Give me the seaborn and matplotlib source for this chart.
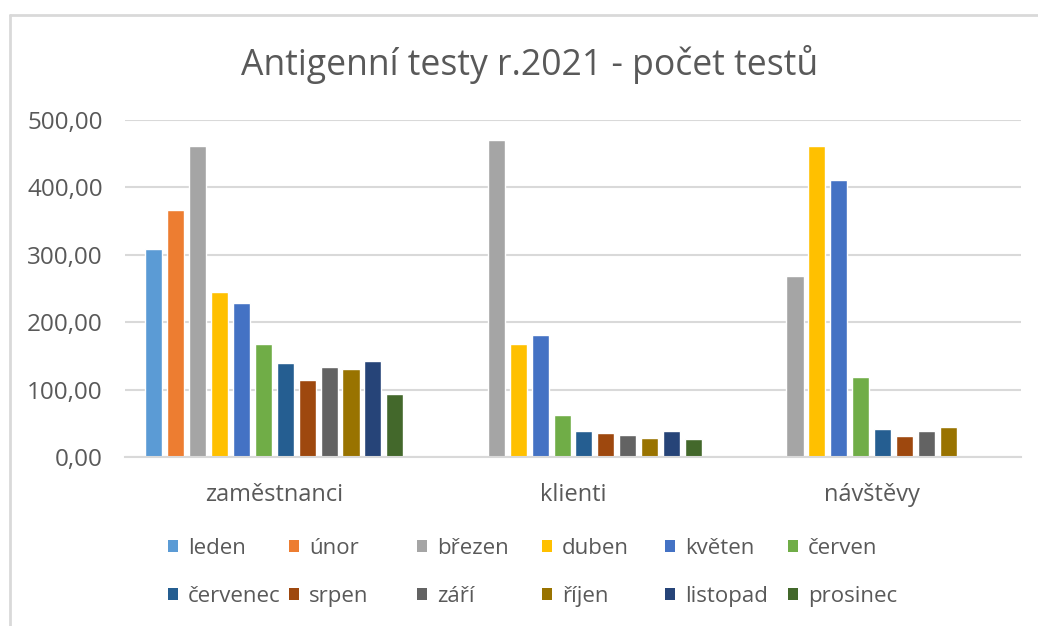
import pandas as pd
import numpy as np

import matplotlib.pyplot as plt
import matplotlib.ticker as mticker
from matplotlib.patches import Patch
import seaborn as sns


sns.set_theme(style="white")
plt.rcParams["font.family"] = ["Open Sans", "DejaVu Sans"]

categories = ["zaměstnanci", "klienti", "návštěvy"]
months = ["leden", "únor", "březen", "duben", "květen", "červen",
          "červenec", "srpen", "září", "říjen", "listopad", "prosinec"]

zamestnanci = [308, 366, 461, 245, 229, 167, 140, 114, 134, 131, 143, 93]
klienti = [np.nan, np.nan, 471, 167, 181, 63, 39, 36, 33, 28, 39, 26]
navstevy = [np.nan, np.nan, 268, 461, 411, 119, 42, 31, 39, 45, np.nan, np.nan]

colors = ["#5B9BD5", "#ED7D31", "#A5A5A5", "#FFC000", "#4472C4", "#70AD47",
          "#255E91", "#9E480E", "#636363", "#997300", "#264478", "#43682B"]

df = pd.DataFrame({
    "kategorie": np.repeat(categories, len(months)),
    "mesic": months * len(categories),
    "pocet": zamestnanci + klienti + navstevy,
})

text_color = "#595959"
grid_color = "#D9D9D9"
W, H = 1038, 626

fig = plt.figure(figsize=(W / 100, H / 100), dpi=100)
ax = fig.add_axes([125 / W, 1 - 457 / H, 896 / W, 337 / H])

sns.barplot(data=df, x="kategorie", y="pocet", hue="mesic",
            order=categories, hue_order=months, palette=colors,
            width=0.88, gap=0.22, ax=ax, legend=False, saturation=1)

ax.set_ylim(0, 500)
ax.set_xlim(-0.5, 2.5)
ax.set_yticks(range(0, 501, 100))
ax.yaxis.set_major_formatter(
    mticker.FuncFormatter(lambda v, p: f"{v:.2f}".replace(".", ",")))
ax.grid(axis="y", color=grid_color, linewidth=1.5)
ax.set_axisbelow(True)
for s in ["top", "right", "left"]:
    ax.spines[s].set_visible(False)
ax.spines["bottom"].set_color(grid_color)
ax.spines["bottom"].set_linewidth(1.5)
ax.tick_params(axis="both", length=0, colors=text_color)
ax.tick_params(axis="x", pad=19, labelsize=17)
ax.tick_params(axis="y", pad=16, labelsize=17.5)
ax.set_xlabel("")
ax.set_ylabel("")

fig.text(530 / W, 1 - 64 / H, "Antigenní testy r.2021 - počet testů",
         ha="center", va="center", fontsize=25.6, color=text_color)

# legenda: kazdy sloupec zvlast (Excel ma nepravidelne rozestupy)
handles = [Patch(facecolor=c, edgecolor="none") for c in colors]
col_x = [168, 289, 417, 542, 665, 788]
for i, x in enumerate(col_x):
    leg = fig.legend([handles[i], handles[i + 6]], [months[i], months[i + 6]],
                     loc="center left", bbox_to_anchor=(x / W, 1 - 572.5 / H),
                     frameon=False, fontsize=16, handlelength=0.45,
                     handleheight=0.45, handletextpad=0.45, labelspacing=1.19,
                     borderpad=0, borderaxespad=0, labelcolor=text_color)

# ramecek grafu
fig.add_artist(plt.Line2D([10 / W, 10 / W], [0, 1 - 15 / H],
                          transform=fig.transFigure, color=grid_color, linewidth=2))
fig.add_artist(plt.Line2D([10 / W, 1], [1 - 15 / H, 1 - 15 / H],
                          transform=fig.transFigure, color=grid_color, linewidth=2))

fig.savefig("out.png", dpi=100)
